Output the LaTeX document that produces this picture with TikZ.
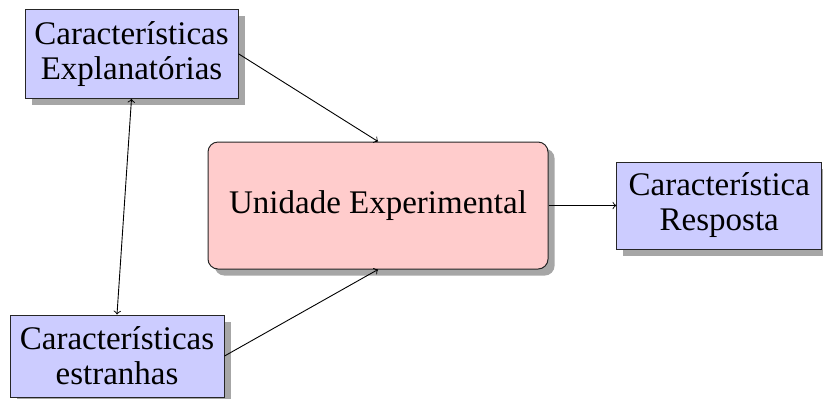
\documentclass[tikz,border=0pt]{standalone}
\usepackage{fontspec}
\setmainfont{Liberation Serif}
\usetikzlibrary{shadows}
\begin{document}
\begin{tikzpicture}[x=0.5pt,y=-0.5pt,
  shadowed/.style={drop shadow={shadow xshift=3.3pt,shadow yshift=-3.3pt,fill=black!35,opacity=1}},
  bluebox/.style={draw=black!85,fill=blue!20,line width=0.5pt,shadowed,inner sep=0pt,align=center,
    font=\fontsize{16.5pt}{17.5pt}\selectfont},
  pinkbox/.style={draw=black!85,fill=red!20,line width=0.5pt,shadowed,inner sep=0pt,align=center,
    rounded corners=5pt,font=\fontsize{16.5pt}{17.5pt}\selectfont},
  conn/.style={->,line width=0.45pt}]
\useasboundingbox (0,0) rectangle (823,398);
\node[bluebox,minimum width=106.5pt,minimum height=44.5pt] (expl) at (131.5,53.8) {Características\\Explanatórias};
\node[pinkbox,minimum width=170pt,minimum height=63.5pt] (unid) at (378,205.5) {Unidade Experimental};
\node[bluebox,minimum width=102.5pt,minimum height=43.5pt] (resp) at (719.3,205.5) {Característica\\Resposta};
\node[bluebox,minimum width=107pt,minimum height=41pt] (estr) at (117,356) {Características\\estranhas};
\draw[conn] (expl.east) -- (unid.north);
\draw[conn] (estr.east) -- (unid.south);
\draw[conn] (unid.east) -- (resp.west);
\draw[conn,<->] (expl.south) -- (estr.north);
\end{tikzpicture}
\end{document}
